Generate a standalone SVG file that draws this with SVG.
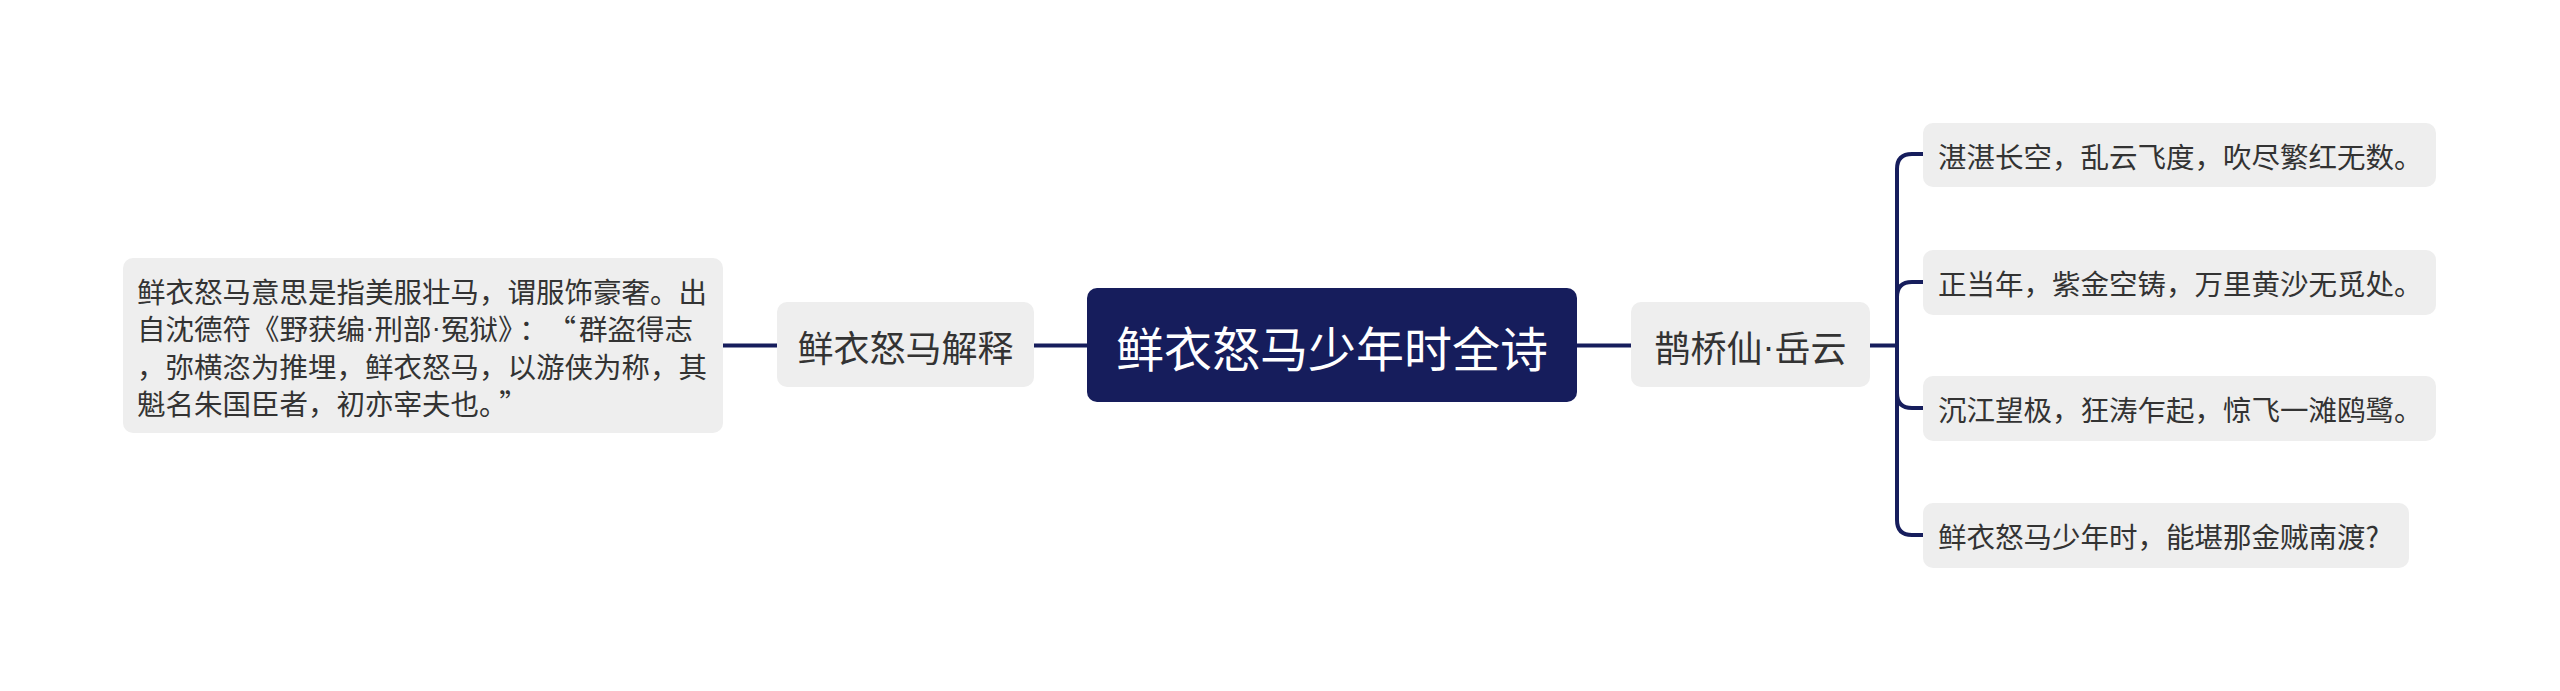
<svg xmlns="http://www.w3.org/2000/svg" width="2560" height="691" viewBox="0 0 2560 691">
<style>
.t{font-family:"Noto Sans CJK SC","Noto Sans",sans-serif;fill:#333333;dominant-baseline:central}
.d{font-family:"Liberation Sans","Noto Sans",sans-serif}
.leaf{fill:#eeeeee}
.c{fill:none;stroke:#161d5c;stroke-width:4;stroke-linecap:round}
</style>
<rect width="2560" height="691" fill="#ffffff"/>
<g id="connectors">
<path class="c" d="M723 345.5H777"/>
<path class="c" d="M1034 345.5H1087"/>
<path class="c" d="M1577 345.5H1631"/>
<path class="c" d="M1870 345.5H1897"/>
<path class="c" d="M1923 154H1912Q1897 154 1897 169V520Q1897 535 1912 535H1923"/>
<path class="c" d="M1923 282H1912Q1897 282 1897 297"/>
<path class="c" d="M1897 393Q1897 408 1912 408H1923"/>
</g>
<g id="root">
<rect x="1087" y="288" width="490" height="114" rx="10" fill="#161d5c"/>
<text class="t" x="1332" y="345.5" font-size="48" text-anchor="middle" style="fill:#ffffff">鲜衣怒马少年时全诗</text>
</g>
<g id="n-left">
<rect class="leaf" x="777" y="302" width="257" height="85" rx="10"/>
<text class="t" x="905.5" y="345.5" font-size="36" text-anchor="middle">鲜衣怒马解释</text>
</g>
<g id="n-left-leaf">
<rect class="leaf" x="123" y="258" width="600" height="175" rx="10"/>
<text class="t" font-size="28.5">
<tspan x="137" y="289.5">鲜衣怒马意思是指美服壮马，谓服饰豪奢。出</tspan>
<tspan x="137" y="327">自沈德符《野获编<tspan class="d">·</tspan>刑部<tspan class="d">·</tspan>冤狱》<tspan dx="7">：</tspan><tspan dx="14">“</tspan><tspan dx="3">群盗得志</tspan></tspan>
<tspan x="137" y="364.5">，弥横恣为推埋，鲜衣怒马，以游侠为称，其</tspan>
<tspan x="137" y="402">魁名朱国臣者，初亦宰夫也。<tspan dx="6">”</tspan></tspan>
</text>
</g>
<g id="n-right">
<rect class="leaf" x="1631" y="302" width="239" height="85" rx="10"/>
<text class="t" x="1750.5" y="345.5" font-size="36" text-anchor="middle">鹊桥仙<tspan class="d">·</tspan>岳云</text>
</g>
<g id="r1">
<rect class="leaf" x="1923" y="123" width="513" height="64" rx="10"/>
<text class="t" x="1938" y="155" font-size="28.5">湛湛长空，乱云飞度，吹尽繁红无数。</text>
</g>
<g id="r2">
<rect class="leaf" x="1923" y="250" width="513" height="65" rx="10"/>
<text class="t" x="1938" y="282.5" font-size="28.5">正当年，紫金空铸，万里黄沙无觅处。</text>
</g>
<g id="r3">
<rect class="leaf" x="1923" y="376" width="513" height="65" rx="10"/>
<text class="t" x="1938" y="408.5" font-size="28.5">沉江望极，狂涛乍起，惊飞一滩鸥鹭。</text>
</g>
<g id="r4">
<rect class="leaf" x="1923" y="503" width="486" height="65" rx="10"/>
<text class="t" x="1938" y="535.5" font-size="28.5">鲜衣怒马少年时，能堪那金贼南渡?</text>
</g>
</svg>
